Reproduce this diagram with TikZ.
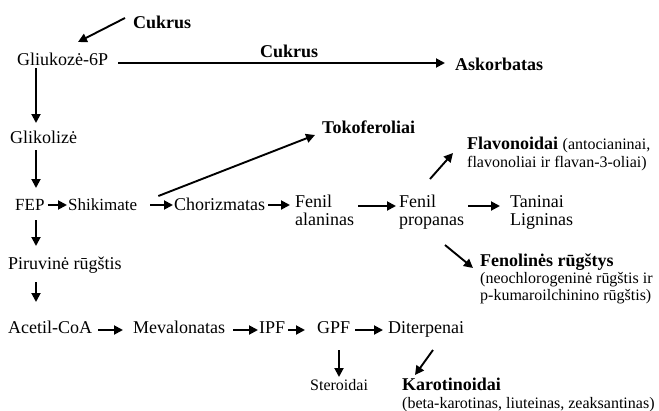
\documentclass[tikz,border=0pt]{standalone}
\usepackage{fontspec}
\setmainfont{Liberation Serif}
\usetikzlibrary{arrows.meta}
\begin{document}
\begin{tikzpicture}[x=1pt,y=-1pt,
  lbl/.style={anchor=base west,inner sep=0pt,font=\fontsize{18}{18}\selectfont},
  lbltight/.style={anchor=base west,inner sep=0pt,font=\fontsize{18}{17}\selectfont},
  med/.style={anchor=base west,inner sep=0pt,font=\fontsize{17}{18}\selectfont},
  sml/.style={anchor=base west,inner sep=0pt,font=\fontsize{16}{18}\selectfont},
  arr/.style={line width=1.9pt,-{Triangle[length=9pt,width=9pt]}},
]
\fill[white] (0,0) rectangle (659,410);
\useasboundingbox (0,0) rectangle (659,410);

% nodes
\node[lbl] (cuk1) at (133,28) {\textbf{Cukrus}};
\node[lbl] (glu) at (17,65) {Gliukozė-6P};
\node[lbl] (cuk2) at (260,57) {\textbf{Cukrus}};
\node[lbl] (ask) at (455,70) {\textbf{Askorbatas}};
\node[lbl] (gli) at (10,143) {Glikolizė};
\node[med] (fep) at (15,210) {FEP};
\node[med] (shik) at (68,210) {Shikimate};
\node[lbl] (chor) at (174,210) {Chorizmatas};
\node[lbl] (tok) at (322,133) {\textbf{Tokoferoliai}};
\node[lbl] (fala) at (295,207) {\begin{tabular}[t]{@{}l@{}}Fenil\\alaninas\end{tabular}};
\node[lbl] (fpro) at (399,207) {\begin{tabular}[t]{@{}l@{}}Fenil\\propanas\end{tabular}};
\node[lbl] (tan) at (510,207) {\begin{tabular}[t]{@{}l@{}}Taninai\\Ligninas\end{tabular}};
\node[lbl] (flav) at (467,149) {\begin{tabular}[t]{@{}l@{}}\textbf{Flavonoidai} {\fontsize{16}{18}\selectfont(antocianinai,}\\{\fontsize{16}{18}\selectfont flavonoliai ir flavan-3-oliai)}\end{tabular}};
\node[lbltight] (fen) at (480,266) {\begin{tabular}[t]{@{}l@{}}\textbf{Fenolinės rūgštys}\\{\fontsize{16}{17}\selectfont (neochlorogeninė rūgštis ir}\\{\fontsize{16}{17}\selectfont p-kumaroilchinino rūgštis)}\end{tabular}};
\node[lbl] (pir) at (8,269) {Piruvinė rūgštis};
\node[lbl] (acet) at (8,333) {Acetil-CoA};
\node[lbl] (mev) at (133,333) {Mevalonatas};
\node[lbl] (ipf) at (259,333) {IPF};
\node[lbl] (gpf) at (317,333) {GPF};
\node[lbl] (dit) at (388,333) {Diterpenai};
\node[sml] (ster) at (310,390) {Steroidai};
\node[lbl] (kar) at (402,390) {\begin{tabular}[t]{@{}l@{}}\textbf{Karotinoidai}\\{\fontsize{16}{18}\selectfont (beta-karotinas, liuteinas, zeaksantinas)}\end{tabular}};

% connectors
\draw[arr] ([xshift=-8pt,yshift=10pt]cuk1.base west) -- ([xshift=61pt,yshift=23pt]glu.base west);
\draw[arr] ([xshift=10pt,yshift=2pt]glu.base east) -- ([xshift=-10pt,yshift=7pt]ask.base west);
\draw[arr] ([xshift=19pt,yshift=-3pt]glu.base west) -- ([xshift=26pt,yshift=20pt]gli.base west);
\draw[arr] ([xshift=26pt,yshift=-7pt]gli.base west) -- ([xshift=21pt,yshift=22pt]fep.base west);
\draw[arr] ([xshift=21pt,yshift=-10pt]fep.base west) -- ([xshift=28pt,yshift=23pt]pir.base west);
\draw[arr] ([xshift=28pt,yshift=-13pt]pir.base west) -- ([xshift=28pt,yshift=31pt]acet.base west);
\draw[arr] ([xshift=3pt,yshift=5pt]fep.base east) -- ([xshift=-1pt,yshift=5pt]shik.base west);
\draw[arr] ([xshift=13pt,yshift=5pt]shik.base east) -- ([xshift=-1pt,yshift=5pt]chor.base west);
\draw[arr] ([xshift=21pt,yshift=14pt]shik.base east) -- ([xshift=-7pt,yshift=-2pt]tok.base west);
\draw[arr] ([xshift=3pt,yshift=5pt]chor.base east) -- ([xshift=-5pt,yshift=2pt]fala.base west);
\draw[arr] ([xshift=4pt,yshift=1pt]fala.base east) -- ([xshift=-3pt,yshift=1pt]fpro.base west);
\draw[arr] ([xshift=4pt,yshift=1pt]fpro.base east) -- ([xshift=-10pt,yshift=1pt]tan.base west);
\draw[arr] ([xshift=31pt,yshift=28pt]fpro.base west) -- ([xshift=-14pt,yshift=-4pt]flav.base west);
\draw[arr] ([xshift=46pt,yshift=-38pt]fpro.base west) -- ([xshift=-7pt,yshift=-2pt]fen.base west);
\draw[arr] ([xshift=6pt,yshift=3pt]acet.base east) -- ([xshift=-10pt,yshift=3pt]mev.base west);
\draw[arr] ([xshift=8pt,yshift=3pt]mev.base east) -- ([xshift=-1pt,yshift=3pt]ipf.base west);
\draw[arr] ([xshift=3pt,yshift=3pt]ipf.base east) -- ([xshift=-12pt,yshift=3pt]gpf.base west);
\draw[arr] ([xshift=5pt,yshift=3pt]gpf.base east) -- ([xshift=-5pt,yshift=3pt]dit.base west);
\draw[arr] ([xshift=22pt,yshift=-17pt]gpf.base west) -- ([xshift=29pt,yshift=13pt]ster.base west);
\draw[arr] ([xshift=45pt,yshift=-17pt]dit.base west) -- ([xshift=13pt,yshift=15pt]kar.base west);
\end{tikzpicture}
\end{document}
